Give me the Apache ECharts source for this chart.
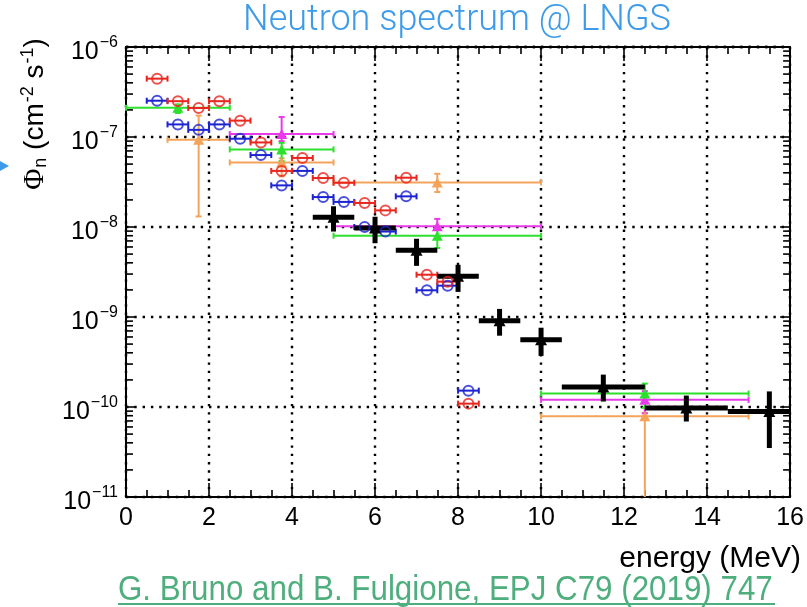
<!DOCTYPE html>
<html>
<head>
<meta charset="utf-8">
<title>Neutron spectrum @ LNGS</title>
<script src="https://cdn.jsdelivr.net/npm/echarts@6/dist/echarts.min.js"></script>
<style>
  html, body { margin: 0; padding: 0; background: #fff; }
  #chart { width: 807px; height: 607px; }
</style>
</head>
<body>
<div id="chart"></div>
<script>
// Each point: [energy, flux, energyLow, energyHigh, fluxLow, fluxHigh]  (MeV, cm^-2 s^-1)
const redPoints = [
  [0.75, 4.45e-7, 0.5, 1.0, 4.45e-7, 4.45e-7],
  [1.25, 2.5e-7, 1.0, 1.5, 2.5e-7, 2.5e-7],
  [1.75, 2.1e-7, 1.5, 2.0, 2.1e-7, 2.1e-7],
  [2.25, 2.5e-7, 2.0, 2.5, 2.5e-7, 2.5e-7],
  [2.75, 1.52e-7, 2.5, 3.0, 1.52e-7, 1.52e-7],
  [3.25, 8.7e-8, 3.0, 3.5, 8.7e-8, 8.7e-8],
  [3.75, 4.2e-8, 3.5, 4.0, 4.2e-8, 4.2e-8],
  [4.25, 5.85e-8, 4.0, 4.5, 5.85e-8, 5.85e-8],
  [4.75, 3.5e-8, 4.5, 5.0, 3.5e-8, 3.5e-8],
  [5.25, 3.1e-8, 5.0, 5.5, 3.1e-8, 3.1e-8],
  [5.75, 1.85e-8, 5.5, 6.0, 1.85e-8, 1.85e-8],
  [6.25, 1.53e-8, 6.0, 6.5, 1.53e-8, 1.53e-8],
  [6.75, 3.53e-8, 6.5, 7.0, 3.53e-8, 3.53e-8],
  [7.25, 2.95e-9, 7.0, 7.5, 2.95e-9, 2.95e-9],
  [7.75, 2.47e-9, 7.5, 8.0, 2.47e-9, 2.47e-9],
  [8.25, 1.09e-10, 8.0, 8.5, 1.09e-10, 1.09e-10]
];
const bluePoints = [
  [0.75, 2.53e-7, 0.5, 1.0, 2.53e-7, 2.53e-7],
  [1.25, 1.38e-7, 1.0, 1.5, 1.38e-7, 1.38e-7],
  [1.75, 1.2e-7, 1.5, 2.0, 1.2e-7, 1.2e-7],
  [2.25, 1.38e-7, 2.0, 2.5, 1.38e-7, 1.38e-7],
  [2.75, 9.57e-8, 2.5, 3.0, 9.57e-8, 9.57e-8],
  [3.25, 6.3e-8, 3.0, 3.5, 6.3e-8, 6.3e-8],
  [3.75, 2.9e-8, 3.5, 4.0, 2.9e-8, 2.9e-8],
  [4.25, 4.2e-8, 4.0, 4.5, 4.2e-8, 4.2e-8],
  [4.75, 2.15e-8, 4.5, 5.0, 2.15e-8, 2.15e-8],
  [5.25, 1.9e-8, 5.0, 5.5, 1.9e-8, 1.9e-8],
  [5.75, 1.0e-8, 5.5, 6.0, 1.0e-8, 1.0e-8],
  [6.25, 8.9e-9, 6.0, 6.5, 8.9e-9, 8.9e-9],
  [6.75, 2.19e-8, 6.5, 7.0, 2.19e-8, 2.19e-8],
  [7.25, 1.98e-9, 7.0, 7.5, 1.98e-9, 1.98e-9],
  [7.75, 2.23e-9, 7.5, 8.0, 2.23e-9, 2.23e-9],
  [8.25, 1.52e-10, 8.0, 8.5, 1.52e-10, 1.52e-10]
];
const greenPoints = [
  [1.25, 2.12e-7, 0.0, 2.5, 1.85e-7, 2.3e-7],
  [3.75, 7.28e-8, 2.5, 5.0, 5.4e-8, 8.6e-8],
  [7.5, 8.0e-9, 5.0, 10.0, 5.85e-9, 9.3e-9],
  [12.5, 1.41e-10, 10.0, 15.0, 9.8e-11, 1.82e-10]
];
const magentaPoints = [
  [3.75, 1.08e-7, 2.5, 5.0, 9.0e-8, 1.67e-7],
  [7.5, 1.02e-8, 5.0, 10.0, 9.3e-9, 1.23e-8],
  [12.5, 1.2e-10, 10.0, 15.0, 8.5e-11, 1.5e-10]
];
const orangePoints = [
  [1.75, 9.3e-8, 1.0, 2.5, 1.31e-8, 1.73e-7],
  [3.75, 5.22e-8, 2.5, 5.0, 3.65e-8, 5.8e-8],
  [7.5, 3.13e-8, 5.0, 10.0, 2.45e-8, 3.9e-8],
  [12.5, 7.87e-11, 10.0, 15.0, 0, 8.6e-11]
];
const blackPoints = [
  [5.0, 1.28e-8, 4.5, 5.5, 8.9e-9, 1.7e-8],
  [6.0, 9.75e-9, 5.5, 6.5, 6.6e-9, 1.3e-8],
  [7.0, 5.5e-9, 6.5, 7.5, 3.7e-9, 7.4e-9],
  [8.0, 2.83e-9, 7.5, 8.5, 1.9e-9, 3.8e-9],
  [9.0, 9.1e-10, 8.5, 9.5, 6.2e-10, 1.23e-9],
  [10.0, 5.6e-10, 9.5, 10.5, 3.7e-10, 7.6e-10],
  [11.5, 1.67e-10, 10.5, 12.5, 1.15e-10, 2.29e-10],
  [13.5, 9.75e-11, 12.5, 14.5, 6.9e-11, 1.34e-10],
  [15.5, 8.9e-11, 14.5, 16.5, 3.5e-11, 1.49e-10]
];

// Axis ranges and tick labels
const energyMin = 0, energyMax = 16, energyStep = 2;
const fluxExponents = [-11, -10, -9, -8, -7, -6];
const fluxMin = 1e-11, fluxMax = 1e-6;

const FONT = '"Liberation Sans", Arial, Helvetica, sans-serif';
const COLORS = {
  red: '#e8261e', blue: '#1c24d2', green: '#2de02d',
  magenta: '#e83ae8', orange: '#f4a35a', black: '#000000'
};

// Error bars: horizontal bin width plus vertical flux uncertainty, clipped to the frame
function errorBarRenderer(color, lineWidth, cap) {
  return function (params, api) {
    const cs = params.coordSys;
    const left = cs.x, right = cs.x + cs.width, top = cs.y, bottom = cs.y + cs.height;
    const clampX = v => Math.min(Math.max(v, left), right);
    const clampY = v => Math.min(Math.max(v, top), bottom);
    const e = api.value(0), f = api.value(1);
    const eLo = api.value(2), eHi = api.value(3);
    const fLo = api.value(4), fHi = api.value(5);
    const p = api.coord([e, f]);
    const style = { stroke: color, lineWidth: lineWidth, fill: null };
    const children = [];
    const xRawL = api.coord([eLo, f])[0], xRawR = api.coord([eHi, f])[0];
    const xl = clampX(xRawL), xr = clampX(xRawR);
    children.push({ type: 'line', shape: { x1: xl, y1: p[1], x2: xr, y2: p[1] }, style: style });
    if (cap) {
      if (xRawL >= left) children.push({ type: 'line', shape: { x1: xl, y1: p[1] - cap, x2: xl, y2: p[1] + cap }, style: style });
      if (xRawR <= right) children.push({ type: 'line', shape: { x1: xr, y1: p[1] - cap, x2: xr, y2: p[1] + cap }, style: style });
    }
    if (fLo !== fHi) {
      const yLowRaw = fLo > 0 ? api.coord([e, fLo])[1] : bottom + 1;
      const yl = clampY(yLowRaw);
      const yh = clampY(api.coord([e, fHi])[1]);
      children.push({ type: 'line', shape: { x1: p[0], y1: yl, x2: p[0], y2: yh }, style: style });
      if (cap) {
        if (yLowRaw <= bottom) children.push({ type: 'line', shape: { x1: p[0] - cap, y1: yl, x2: p[0] + cap, y2: yl }, style: style });
        children.push({ type: 'line', shape: { x1: p[0] - cap, y1: yh, x2: p[0] + cap, y2: yh }, style: style });
      }
    }
    return { type: 'group', children: children };
  };
}

function errorSeries(data, color, lineWidth, cap) {
  return {
    type: 'custom', silent: true, xAxisIndex: 0, yAxisIndex: 0,
    encode: { x: 0, y: 1 },
    data: data,
    renderItem: errorBarRenderer(color, lineWidth, cap)
  };
}

function markerSeries(data, color, symbol, size, hollow) {
  return {
    type: 'scatter', silent: true, xAxisIndex: 0, yAxisIndex: 0,
    symbol: symbol, symbolSize: size,
    data: data.map(d => [d[0], d[1]]),
    itemStyle: hollow
      ? { color: 'rgba(255,255,255,0)', borderColor: color, borderWidth: 2 }
      : { color: color, borderWidth: 0, opacity: 1 }
  };
}

// Log minor ticks (2..9 x 10^n) on the left and right frame edges
const minorFluxTicks = [];
for (let n = fluxExponents[0]; n < fluxExponents[fluxExponents.length - 1]; n++) {
  for (let k = 2; k <= 9; k++) minorFluxTicks.push([energyMin, k * Math.pow(10, n)]);
}
const minorTickSeries = {
  type: 'custom', silent: true, xAxisIndex: 0, yAxisIndex: 0,
  encode: { x: 0, y: 1 },
  data: minorFluxTicks,
  renderItem: function (params, api) {
    const cs = params.coordSys;
    const y = api.coord([api.value(0), api.value(1)])[1];
    const style = { stroke: '#000', lineWidth: 1.6 };
    return {
      type: 'group', children: [
        { type: 'line', shape: { x1: cs.x, y1: y, x2: cs.x + 7, y2: y }, style: style },
        { type: 'line', shape: { x1: cs.x + cs.width - 7, y1: y, x2: cs.x + cs.width, y2: y }, style: style }
      ]
    };
  }
};

const dotted = { color: '#000', width: 2.4, type: [2.4, 5.9] };
const frameLine = { color: '#000', width: 2 };

const chart = echarts.init(document.getElementById('chart'), null, { renderer: 'canvas' });
chart.setOption({
  animation: false,
  backgroundColor: '#fff',
  grid: { left: 126, right: 13, top: 47, bottom: 110, containLabel: false },
  xAxis: [
    {
      type: 'value', position: 'bottom', min: energyMin, max: energyMax, interval: energyStep,
      axisLine: { show: true, onZero: false, lineStyle: frameLine },
      axisTick: { show: true, inside: true, length: 14, lineStyle: { color: '#000', width: 1.6 } },
      minorTick: { show: true, splitNumber: 4, length: 7, lineStyle: { color: '#000', width: 1.6 } },
      axisLabel: { show: true, margin: 9, fontSize: 25, color: '#000', fontFamily: FONT },
      splitLine: { show: true, lineStyle: dotted }
    },
    {
      type: 'value', position: 'top', min: energyMin, max: energyMax, interval: energyStep,
      axisLine: { show: true, onZero: false, lineStyle: frameLine },
      axisTick: { show: true, inside: true, length: 14, lineStyle: { color: '#000', width: 1.6 } },
      minorTick: { show: true, splitNumber: 4, length: 7, lineStyle: { color: '#000', width: 1.6 } },
      axisLabel: { show: false },
      splitLine: { show: false }
    }
  ],
  yAxis: [
    {
      type: 'log', logBase: 10, position: 'left', min: fluxMin, max: fluxMax, splitNumber: 5,
      axisLine: { show: true, onZero: false, lineStyle: frameLine },
      axisTick: { show: true, inside: true, length: 10, lineStyle: { color: '#000', width: 1.6 } },
      axisLabel: {
        show: true, margin: 8, color: '#000', fontFamily: FONT,
        formatter: function (v) {
          const n = Math.round(Math.log10(v));
          if (fluxExponents.indexOf(n) < 0) return '';
          return '{b|10}{s|\u2212' + Math.abs(n) + '}';
        },
        rich: {
          b: { fontSize: 25, fontFamily: FONT, color: '#000', padding: [10, 0, 0, 0] },
          s: { fontSize: 16, fontFamily: FONT, color: '#000', padding: [0, 0, 8, 1] }
        }
      },
      splitLine: { show: true, lineStyle: dotted }
    },
    {
      type: 'log', logBase: 10, position: 'right', min: fluxMin, max: fluxMax, splitNumber: 5,
      axisLine: { show: true, onZero: false, lineStyle: frameLine },
      axisTick: { show: true, inside: true, length: 10, lineStyle: { color: '#000', width: 1.6 } },
      axisLabel: { show: false },
      splitLine: { show: false }
    }
  ],
  series: [
    minorTickSeries,
    errorSeries(orangePoints, COLORS.orange, 2, 3),
    markerSeries(orangePoints, COLORS.orange, 'triangle', [11, 10], false),
    errorSeries(magentaPoints, COLORS.magenta, 2, 3),
    markerSeries(magentaPoints, COLORS.magenta, 'triangle', [11, 10], false),
    errorSeries(greenPoints, COLORS.green, 2, 3),
    markerSeries(greenPoints, COLORS.green, 'triangle', [11, 10], false),
    errorSeries(bluePoints, COLORS.blue, 2, 3),
    markerSeries(bluePoints, COLORS.blue, 'circle', 10, true),
    errorSeries(redPoints, COLORS.red, 2, 3),
    markerSeries(redPoints, COLORS.red, 'circle', 10, true),
    errorSeries(blackPoints, COLORS.black, 5, 0),
    markerSeries(blackPoints, COLORS.black, 'triangle', [12, 11], false)
  ],
  graphic: [
    {
      type: 'text', x: 457, y: 21,
      style: {
        text: 'Neutron spectrum @ LNGS', x: 0, y: 0,
        align: 'center', verticalAlign: 'middle',
        font: '300 36px Roboto, "Open Sans", sans-serif', fill: '#3d9be9'
      }
    },
    {
      type: 'text', x: 35, y: 114, rotation: Math.PI / 2,
      style: {
        text: '{phi|\u03A6}{sub|n}{t| (cm}{sup|-2}{t| s}{sup|-1}{t|)}',
        align: 'center', verticalAlign: 'middle',
        rich: {
          phi: { fontSize: 29, fontFamily: '"Liberation Serif", "DejaVu Serif", serif', fill: '#000' },
          sub: { fontSize: 18, fontFamily: FONT, fill: '#000', padding: [12, 0, 0, 1] },
          t: { fontSize: 28, fontFamily: FONT, fill: '#000' },
          sup: { fontSize: 18, fontFamily: FONT, fill: '#000', padding: [0, 0, 14, 1] }
        }
      }
    },
    {
      type: 'polygon', silent: true,
      shape: { points: [[0, 161], [9, 166], [0, 171]] },
      style: { fill: '#3d9be9' }
    },
    {
      type: 'text', x: 801, y: 559,
      style: {
        text: 'energy (MeV)', align: 'right', verticalAlign: 'middle',
        font: '30px ' + FONT, fill: '#000'
      }
    },
    {
      type: 'text', x: 118, y: 590, scaleX: 0.895,
      style: {
        text: 'G. Bruno and B. Fulgione, EPJ C79 (2019) 747', align: 'left', verticalAlign: 'middle',
        font: '35px ' + FONT, fill: '#4fae7d'
      }
    },
    {
      type: 'line', silent: true,
      shape: { x1: 118, y1: 604, x2: 775, y2: 604 },
      style: { stroke: '#4fae7d', lineWidth: 2 }
    }
  ]
});
</script>
</body>
</html>
